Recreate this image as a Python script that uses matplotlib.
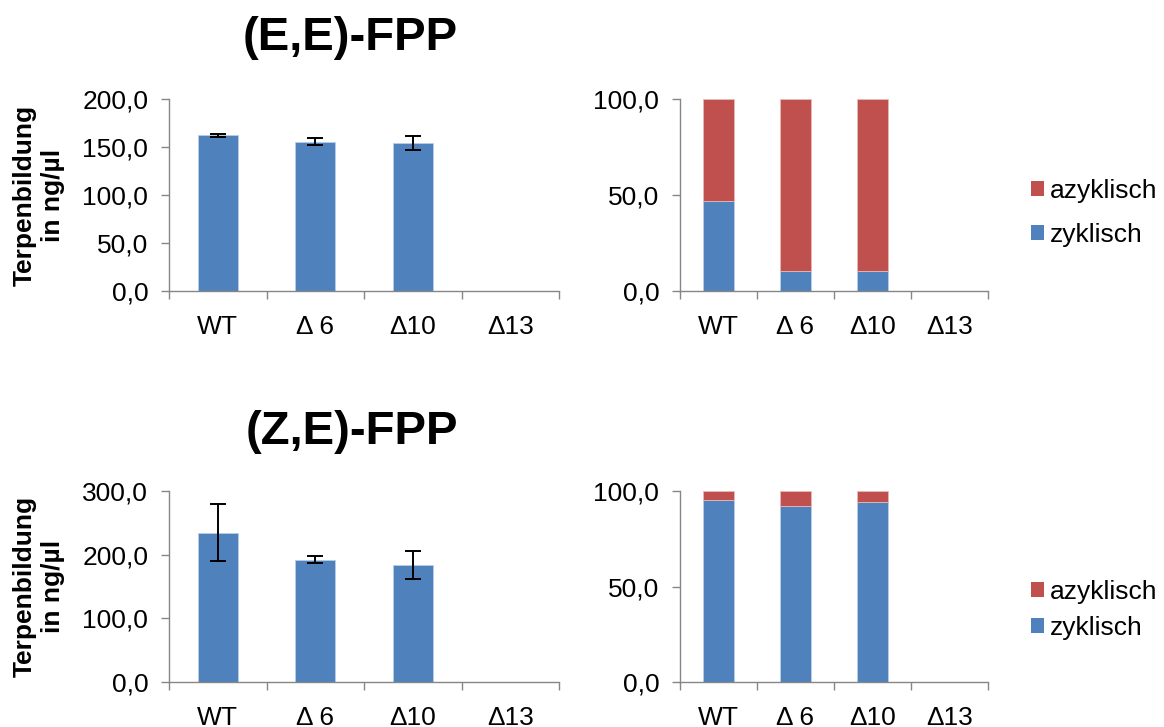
import numpy as np
import matplotlib
matplotlib.use("Agg")
import matplotlib.pyplot as plt
from matplotlib.patches import Patch

plt.rcParams['font.family'] = ['Liberation Sans', 'DejaVu Sans']

# Mutants on the x axis
categories = ["WT", "Δ 6", "Δ10", "Δ13"]

# (E,E)-FPP: total terpene yield (ng/µl) and error
ee_total = [162.0, 155.5, 154.2, 0.0]
ee_err = [2.0, 3.7, 7.3, 0.0]
# (E,E)-FPP: product share in %
ee_cyclic = [47.0, 10.2, 10.2, 0.0]
ee_acyclic = [53.0, 89.8, 89.8, 0.0]

# (Z,E)-FPP: total terpene yield (ng/µl) and error
ze_total = [234.7, 192.2, 183.8, 0.0]
ze_err = [45.0, 5.0, 21.5, 0.0]
# (Z,E)-FPP: product share in %
ze_cyclic = [95.5, 92.1, 94.2, 0.0]
ze_acyclic = [4.5, 7.9, 5.8, 0.0]

ee_yticks = [0, 50, 100, 150, 200]
ze_yticks = [0, 100, 200, 300]
pct_yticks = [0, 50, 100]

BLUE = '#4F81BD'
RED = '#C0504D'
GRAY = '#868686'
FS = 19

W, H = 1164, 727
fig = plt.figure(figsize=(W / 100, H / 100), dpi=100)


def px_axes(x0, y0, x1, y1):
    return fig.add_axes([x0 / W, 1 - y1 / H, (x1 - x0) / W, (y1 - y0) / H])


def style_axes(ax, yticks):
    x = np.arange(len(categories))
    ax.set_xlim(-0.5, len(categories) - 0.5)
    ax.set_ylim(yticks[0], yticks[-1])
    for s in ['top', 'right']:
        ax.spines[s].set_visible(False)
    for s in ['left', 'bottom']:
        ax.spines[s].set_color(GRAY)
        ax.spines[s].set_linewidth(1.0)
    # boundary ticks unlabeled, labels sit between them
    ax.set_xticks(np.arange(len(categories) + 1) - 0.5)
    ax.set_xticklabels([])
    ax.set_xticks(x, minor=True)
    ax.set_xticklabels(categories, minor=True, fontsize=FS)
    ax.tick_params(axis='x', which='major', direction='out', length=6, width=1, color=GRAY)
    ax.tick_params(axis='x', which='minor', length=0, pad=17)
    ax.set_yticks(yticks)
    ax.set_yticklabels([f"{v:.1f}".replace('.', ',') for v in yticks], fontsize=FS)
    ax.tick_params(axis='y', direction='out', length=6, width=1, color=GRAY, pad=9)


def total_panel(ax, total, err, yticks):
    x = np.arange(len(categories))
    ax.bar(x, total, width=0.41, color=BLUE, edgecolor='#B9CDE5', linewidth=0.6, zorder=2)
    idx = [i for i, e in enumerate(err) if e > 0]
    ax.errorbar([x[i] for i in idx], [total[i] for i in idx], yerr=[err[i] for i in idx],
                fmt='none', ecolor='black', elinewidth=1.4, capsize=5.5, capthick=1.4, zorder=3)
    style_axes(ax, yticks)


def share_panel(ax, cyclic, acyclic, legend_y, spacing):
    x = np.arange(len(categories))
    ax.bar(x, cyclic, width=0.40, color=BLUE, edgecolor='#B9CDE5', linewidth=0.6, zorder=2)
    ax.bar(x, acyclic, width=0.40, bottom=cyclic, color=RED, edgecolor='#E6B9B8',
           linewidth=0.6, zorder=2)
    style_axes(ax, pct_yticks)
    handles = [Patch(facecolor=RED, edgecolor='none'), Patch(facecolor=BLUE, edgecolor='none')]
    ax.legend(handles, ['azyklisch', 'zyklisch'], loc='center left',
              bbox_to_anchor=(1031 / W, 1 - legend_y / H), bbox_transform=fig.transFigure,
              frameon=False, fontsize=FS, borderpad=0, borderaxespad=0,
              handlelength=0.5, handleheight=0.5, handletextpad=0.2, labelspacing=spacing)


ax1 = px_axes(169, 99, 559, 291)
total_panel(ax1, ee_total, ee_err, ee_yticks)
ax2 = px_axes(680, 99, 988, 291)
share_panel(ax2, ee_cyclic, ee_acyclic, 213, 0.78)

ax3 = px_axes(169, 491, 559, 682)
total_panel(ax3, ze_total, ze_err, ze_yticks)
ax4 = px_axes(680, 491, 988, 682)
share_panel(ax4, ze_cyclic, ze_acyclic, 610, 0.45)

fig.text(350 / W, 1 - 38 / H, "(E,E)-FPP", fontsize=34, fontweight='bold',
         ha='center', va='center')
fig.text(352 / W, 1 - 432 / H, "(Z,E)-FPP", fontsize=34, fontweight='bold',
         ha='center', va='center')

for yc in (195, 586):
    fig.text(39 / W, 1 - yc / H, "Terpenbildung\nin ng/µl", fontsize=FS, fontweight='bold',
             rotation=90, ha='center', va='center', multialignment='center', linespacing=1.25)

fig.savefig('out.png', dpi=100)
